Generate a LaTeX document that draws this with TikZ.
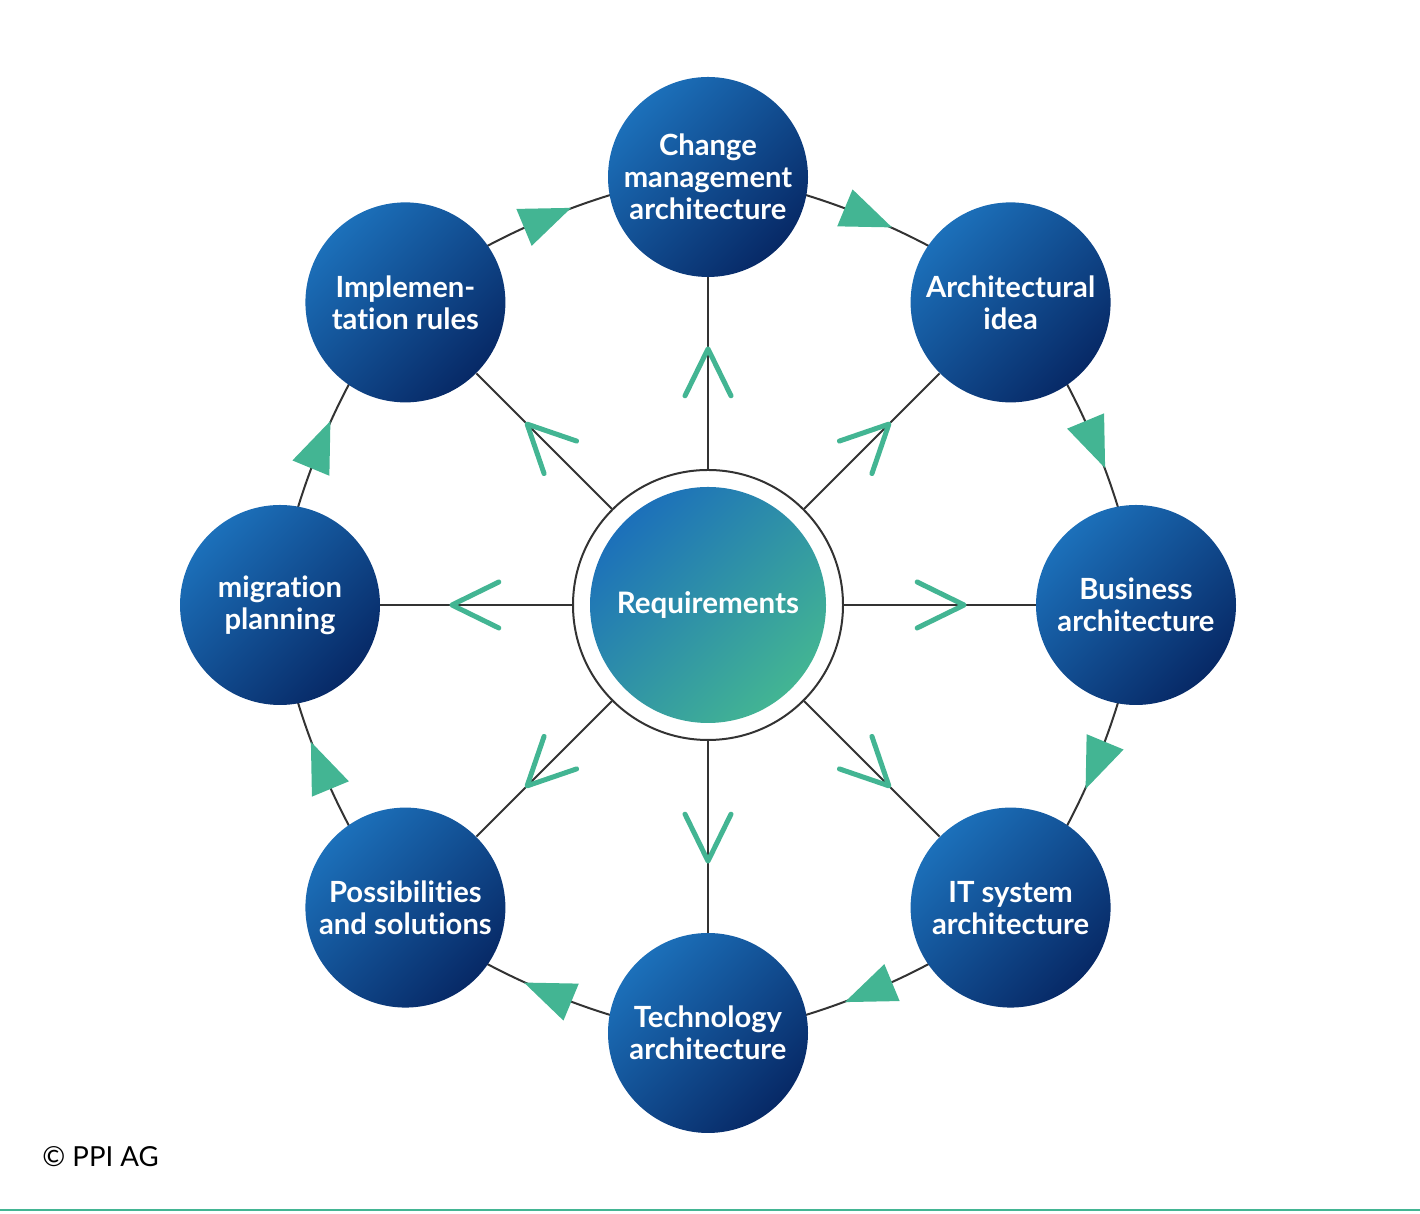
\documentclass[tikz,border=0pt]{standalone}
\usepackage{fontspec}
\setmainfont{Lato}[Ligatures=NoCommon]
\usetikzlibrary{decorations.markings,backgrounds}

\definecolor{ppiblue}{HTML}{1C70BA}
\definecolor{ppinavy}{HTML}{072966}
\definecolor{ppigreen}{HTML}{43B593}
\definecolor{ppiline}{HTML}{333333}

\begin{document}
\begin{tikzpicture}[x=0.5pt,y=0.5pt,
    topic/.style={shape=circle,minimum size=100pt,inner sep=0pt,align=center,text=white,
      font=\fontsize{14.6pt}{16pt}\selectfont\bfseries,
      top color=ppiblue,bottom color=ppinavy,shading angle=45},
    ring/.style={shape=circle,minimum size=135pt,draw=ppiline,line width=1pt},
    core/.style={shape=circle,minimum size=118pt,inner sep=0pt,text=white,
      font=\fontsize{14.8pt}{16pt}\selectfont\bfseries,
      top color=ppiblue,bottom color=ppigreen,shading angle=45},
    spoke/.style={draw=ppiline,line width=1pt,postaction={decorate},
      decoration={markings,mark=at position 0.627 with {\draw[ppigreen,line width=2.5pt,line cap=round,line join=round] (-23.5pt,11.5pt) -- (0pt,0pt) -- (-23.5pt,-11.5pt);}}},
    loopline/.style={draw=ppiline,line width=1pt,bend left=22.5,looseness=0.65,postaction={decorate},
      decoration={markings,mark=at position 0.5 with {\fill[ppigreen] (-12.75pt,10pt) -- (12.75pt,0pt) -- (-12.75pt,-10pt) -- cycle;}}}]

    \useasboundingbox (0,0) rectangle (1420,1214);

    \node[ring] (req) at (708,609) {};
    \node[core] (core) at (req) {Requirements};

    \node[topic] (CM) at (708,1037) {Change\\management\\architecture};
    \node[topic] (AI) at (1010.6,911.6) {Architectural\\idea};
    \node[topic] (BA) at (1136,609) {Business\\architecture};
    \node[topic] (IT) at (1010.6,306.4) {IT system\\architecture};
    \node[topic] (TA) at (708,181) {Technology\\architecture};
    \node[topic] (PS) at (405.4,306.4) {Possibilities\\and solutions};
    \node[topic] (MP) at (280,609) {migration\\planning};
    \node[topic] (IR) at (405.4,911.6) {Implemen-\\tation rules};

    % outer cycle, behind the circles
    \begin{scope}[on background layer]
    \draw[loopline] (CM.center) to (AI.center);
    \draw[loopline] (AI.center) to (BA.center);
    \draw[loopline] (BA.center) to (IT.center);
    \draw[loopline] (IT.center) to (TA.center);
    \draw[loopline] (TA.center) to (PS.center);
    \draw[loopline] (PS.center) to (MP.center);
    \draw[loopline] (MP.center) to (IR.center);
    \draw[loopline] (IR.center) to (CM.center);
    \end{scope}

    % spokes from the requirements
    \foreach \t in {CM,AI,BA,IT,TA,PS,MP,IR}
        \draw[spoke] (req) -- (\t);

    \node[anchor=base west,inner sep=0pt,font=\fontsize{13.8pt}{16pt}\selectfont] (copy) at (42,47) {© PPI AG};
    \draw[ppigreen,line width=1.25pt] (0,4) -- (1420,4);

\end{tikzpicture}
\end{document}
